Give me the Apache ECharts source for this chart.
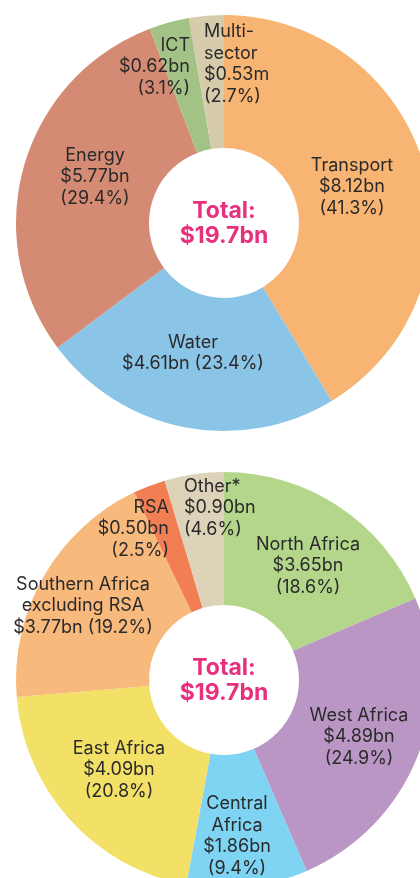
<!DOCTYPE html>
<html>
<head>
    <meta charset="utf-8">
    <title>Investment by sector and region</title>
    <script src="https://cdn.jsdelivr.net/npm/echarts@6/dist/echarts.min.js"></script>
    <style>
        html, body { margin: 0; padding: 0; background: #fff; }
    </style>
</head>
<body>
<div id="main" style="width: 420px;height:878px;"></div>
<script type="text/javascript">
    // sector split (clockwise from 12 o'clock)
    var sectorNames = ['Transport', 'Water', 'Energy', 'ICT', 'Multi-\nsector'];
    var sectorAmounts = ['$8.12bn', '$4.61bn', '$5.77bn', '$0.62bn', '$0.53m'];
    var sectorShares = [41.3, 23.4, 29.4, 3.1, 2.7];
    var sectorColors = ['#F8B472', '#8AC4E7', '#D48A73', '#A3C386', '#D6CBAA'];

    // regional split
    var regionNames = ['North Africa', 'West Africa', 'Central\nAfrica', 'East Africa',
        'Southern Africa\nexcluding RSA', 'RSA', 'Other*'];
    var regionAmounts = ['$3.65bn', '$4.89bn', '$1.86bn', '$4.09bn', '$3.77bn', '$0.50bn', '$0.90bn'];
    var regionShares = [18.6, 24.9, 9.4, 20.8, 19.2, 2.5, 4.6];
    var regionColors = ['#B3D68B', '#BA96C5', '#7FD3F3', '#F3E067', '#F8B97C', '#F17F53', '#DCD3B9'];

    var totalText = 'Total:\n$19.7bn';

    // where each label sits [x, y, align]
    var sectorLabelPos = [[352, 187, 'center'], [193, 353, 'center'], [95, 177, 'center'],
        [190, 67, 'right'], [204, 64, 'left']];
    var regionLabelPos = [[308, 566, 'center'], [359, 737, 'center'], [237, 836, 'center'],
        [119, 770, 'center'], [83, 606, 'center'], [169, 529, 'right'], [184, 508, 'left']];
    // Water and Southern Africa keep the amount and share on one line
    var sameLine = { 'Water': true, 'Southern Africa\nexcluding RSA': true };

    function buildData(names, amounts, shares, colors) {
        return names.map(function (n, i) {
            return {
                name: n,
                value: shares[i],
                amount: amounts[i],
                itemStyle: { color: colors[i] }
            };
        });
    }

    function labelText(p) {
        var sep = sameLine[p.name] ? ' ' : '\n';
        return p.name + '\n' + p.data.amount + sep + '(' + p.value.toFixed(1) + '%)';
    }

    function layoutFrom(pos) {
        return function (params) {
            var q = pos[params.dataIndex];
            return { x: q[0], y: q[1], align: q[2], verticalAlign: 'middle' };
        };
    }

    var chartDom = document.getElementById('main');
    var myChart = echarts.init(chartDom);

    var labelStyle = {
        show: true,
        position: 'inside',
        formatter: labelText,
        color: '#2a2a2a',
        fontFamily: 'Inter',
        fontSize: 18,
        lineHeight: 21.5
    };

    var option = {
        animation: false,
        series: [
            {
                type: 'pie',
                center: [224, 223],
                radius: [75, 208],
                startAngle: 90,
                clockwise: true,
                avoidLabelOverlap: false,
                silent: true,
                itemStyle: { borderWidth: 0 },
                label: labelStyle,
                labelLine: { show: false },
                labelLayout: layoutFrom(sectorLabelPos),
                data: buildData(sectorNames, sectorAmounts, sectorShares, sectorColors)
            },
            {
                type: 'pie',
                center: [224, 680],
                radius: [75, 208],
                startAngle: 90,
                clockwise: true,
                avoidLabelOverlap: false,
                silent: true,
                itemStyle: { borderWidth: 0 },
                label: labelStyle,
                labelLine: { show: false },
                labelLayout: layoutFrom(regionLabelPos),
                data: buildData(regionNames, regionAmounts, regionShares, regionColors)
            }
        ],
        graphic: [224, 681].map(function (cy) {
            return {
                type: 'text',
                x: 224,
                y: cy,
                style: {
                    text: totalText,
                    fill: '#E8317C',
                    font: 'bold 23px Inter',
                    lineHeight: 25,
                    align: 'center',
                    verticalAlign: 'middle'
                }
            };
        })
    };

    if (option && typeof option === 'object') {
        myChart.setOption(option);
    }
</script>
</body>
</html>
